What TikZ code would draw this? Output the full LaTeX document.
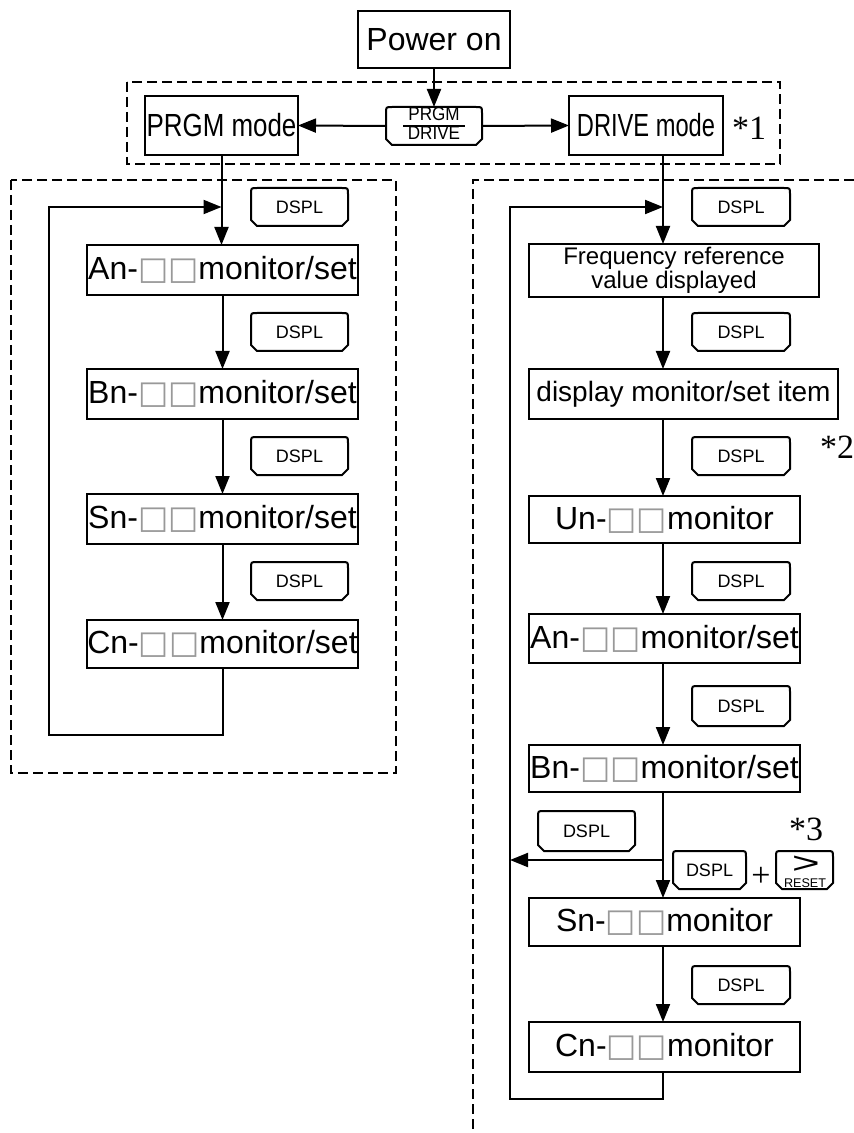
\documentclass[tikz,border=0pt]{standalone}
\usepackage{fontspec}
\setmainfont{Liberation Sans}
\newfontfamily\dejavu{DejaVu Sans}
\newfontfamily\tnr{Liberation Serif}
\usepackage{graphicx}
\usetikzlibrary{arrows.meta,calc}
\newcommand\sqq{{\dejavu\color{gray!80}□□}}
\newcommand\BX[7]{\node[#1,minimum width={(#5-#3)*0.5pt},minimum height={(#6-#4)*0.5pt}] (#2) at ({(#3+#5)/2},{-(#4+#6)/2}) {#7};}
\newcommand\KEYO[1]{\draw[keyline] ([yshift=-3pt]#1.north west) .. controls (#1.north west) .. ([xshift=3pt]#1.north west) -- ([xshift=-3pt]#1.north east) .. controls (#1.north east) .. ([yshift=-3pt]#1.north east) -- ([yshift=3pt]#1.south east) -- ([xshift=-3pt]#1.south east) -- ([xshift=3pt]#1.south west) -- ([yshift=3pt]#1.south west) -- cycle;}
\tikzset{
 box/.style={draw, line width=1.1pt, inner sep=0pt, outer sep=0pt, font=\fontsize{16}{19}\selectfont},
 keynode/.style={inner sep=0pt, outer sep=0pt, font=\fontsize{9}{10}\selectfont},
 keyline/.style={line width=1pt},
 flow/.style={line width=1pt},
 arr/.style={flow,-{Triangle[length=9pt,width=7pt]}},
 dashbox/.style={line width=0.9pt, dash pattern=on 5pt off 2.5pt},
 note/.style={font=\tnr\fontsize{17}{17}\selectfont, inner sep=0pt}
}
\begin{document}
\begin{tikzpicture}[x=0.5pt,y=0.5pt]
\useasboundingbox (0,0) rectangle (854,-1133);
% dashed frames
\draw[dashbox] (127,-82) rectangle (780,-164);
\draw[dashbox] (11,-180) rectangle (396,-773);
\draw[dashbox] (854,-180) -- (473,-180) -- (473,-1133);
% top
\BX{box}{pw}{358}{11}{510}{68}{Power on}
\BX{box}{prgm}{145}{96}{298}{155}{\scalebox{0.81}[1]{PRGM mode}}
\BX{box}{drive}{569}{96}{723}{155}{\scalebox{0.74}[1]{DRIVE mode}}
\BX{keynode}{pd}{386}{107}{482}{145}{\fontsize{9.5}{10}\selectfont\renewcommand\arraystretch{0.75}\setlength\arrayrulewidth{0.8pt}\setlength\tabcolsep{2.5pt}\scalebox{0.9}[1]{\begin{tabular}{c}PRGM\\\hline DRIVE\end{tabular}}}
\KEYO{pd}
\node[note] (n1) at (749,-128) {*1};
% left column
\BX{box}{aL}{87}{245}{358}{295}{An-\sqq monitor/set}
\BX{box}{bL}{87}{369}{358}{419}{Bn-\sqq monitor/set}
\BX{box}{sL}{87}{494}{358}{544}{Sn-\sqq monitor/set}
\BX{box}{cL}{87}{620}{358}{668}{Cn-\sqq monitor/set}
\BX{keynode}{kL1}{251}{188}{348}{226}{DSPL}
\BX{keynode}{kL2}{251}{313}{348}{351}{DSPL}
\BX{keynode}{kL3}{251}{437}{348}{475}{DSPL}
\BX{keynode}{kL4}{251}{562}{348}{600}{DSPL}
\KEYO{kL1}\KEYO{kL2}\KEYO{kL3}\KEYO{kL4}
% right column
\BX{box}{freq}{529}{244}{819}{297}{\fontsize{12}{14}\selectfont\begin{tabular}{@{}c@{}}Frequency reference\\[-2pt]value displayed\end{tabular}}
\BX{box}{disp}{529}{369}{838}{419}{\fontsize{14}{16}\selectfont display monitor/set item}
\BX{box}{uR}{529}{496}{800}{543}{Un-\sqq monitor}
\BX{box}{aR}{529}{614}{800}{663}{An-\sqq monitor/set}
\BX{box}{bR}{529}{745}{800}{792}{Bn-\sqq monitor/set}
\BX{box}{sR}{529}{898}{800}{946}{Sn-\sqq monitor}
\BX{box}{cR}{529}{1022}{800}{1072}{Cn-\sqq monitor}
\BX{keynode}{kR1}{692}{188}{790}{226}{DSPL}
\BX{keynode}{kR2}{692}{313}{790}{351}{DSPL}
\BX{keynode}{kR3}{692}{437}{790}{475}{DSPL}
\BX{keynode}{kR4}{692}{562}{790}{600}{DSPL}
\BX{keynode}{kR5}{692}{686}{790}{726}{DSPL}
\BX{keynode}{kR6}{692}{966}{790}{1004}{DSPL}
\BX{keynode}{kB}{538}{811}{635}{851}{DSPL}
\BX{keynode}{kC}{673}{851}{746}{889}{DSPL}
\BX{keynode}{kRS}{776}{851}{833}{889}{}
\KEYO{kR1}\KEYO{kR2}\KEYO{kR3}\KEYO{kR4}\KEYO{kR5}\KEYO{kR6}\KEYO{kB}\KEYO{kC}\KEYO{kRS}
\node[inner sep=0pt, font=\fontsize{15}{15}\selectfont] (gt) at (806,-865) {\scalebox{1.6}[1]{>}};
\node[inner sep=0pt, font=\fontsize{6.3}{7}\selectfont] (rs) at (805,-883) {RESET};
\node[note] (plus) at (761,-877) {+};
\node[note] (n2) at (837,-447) {*2};
\node[note] (n3) at (806,-829) {*3};
% connectors top
\draw[arr] (pw.south) -- (pd.north);
\draw[arr] (pd.west) -- (prgm.east);
\draw[arr] (pd.east) -- (drive.west);
% left connectors
\draw[arr] (prgm.south) -- (prgm.south |- aL.north);
\draw[arr] (aL.south) -- (bL.north);
\draw[arr] (bL.south) -- (sL.north);
\draw[arr] (sL.south) -- (cL.north);
\coordinate (lbL) at (49,-735);
\coordinate (ltL) at (49,-207);
\draw[arr] (cL.south) |- (lbL) -- (ltL) -- (ltL -| prgm.south);
% right connectors
\coordinate (colR) at (663,0);
\draw[arr] (drive.south -| colR) -- (freq.north -| colR);
\draw[arr] (freq.south -| colR) -- (disp.north -| colR);
\draw[arr] (disp.south -| colR) -- (uR.north -| colR);
\draw[arr] (uR.south -| colR) -- (aR.north -| colR);
\draw[arr] (aR.south -| colR) -- (bR.north -| colR);
\draw[arr] (bR.south -| colR) -- (sR.north -| colR);
\draw[arr] (sR.south -| colR) -- (cR.north -| colR);
\coordinate (lbR) at (510,-1099);
\coordinate (ltR) at (510,-207);
\draw[arr] (cR.south -| colR) |- (lbR) -- (ltR) -- (ltR -| colR);
\coordinate (brR) at (663,-860);
\coordinate (brL) at (510,-860);
\draw[arr] (brR) -- (brL);
\end{tikzpicture}
\end{document}
